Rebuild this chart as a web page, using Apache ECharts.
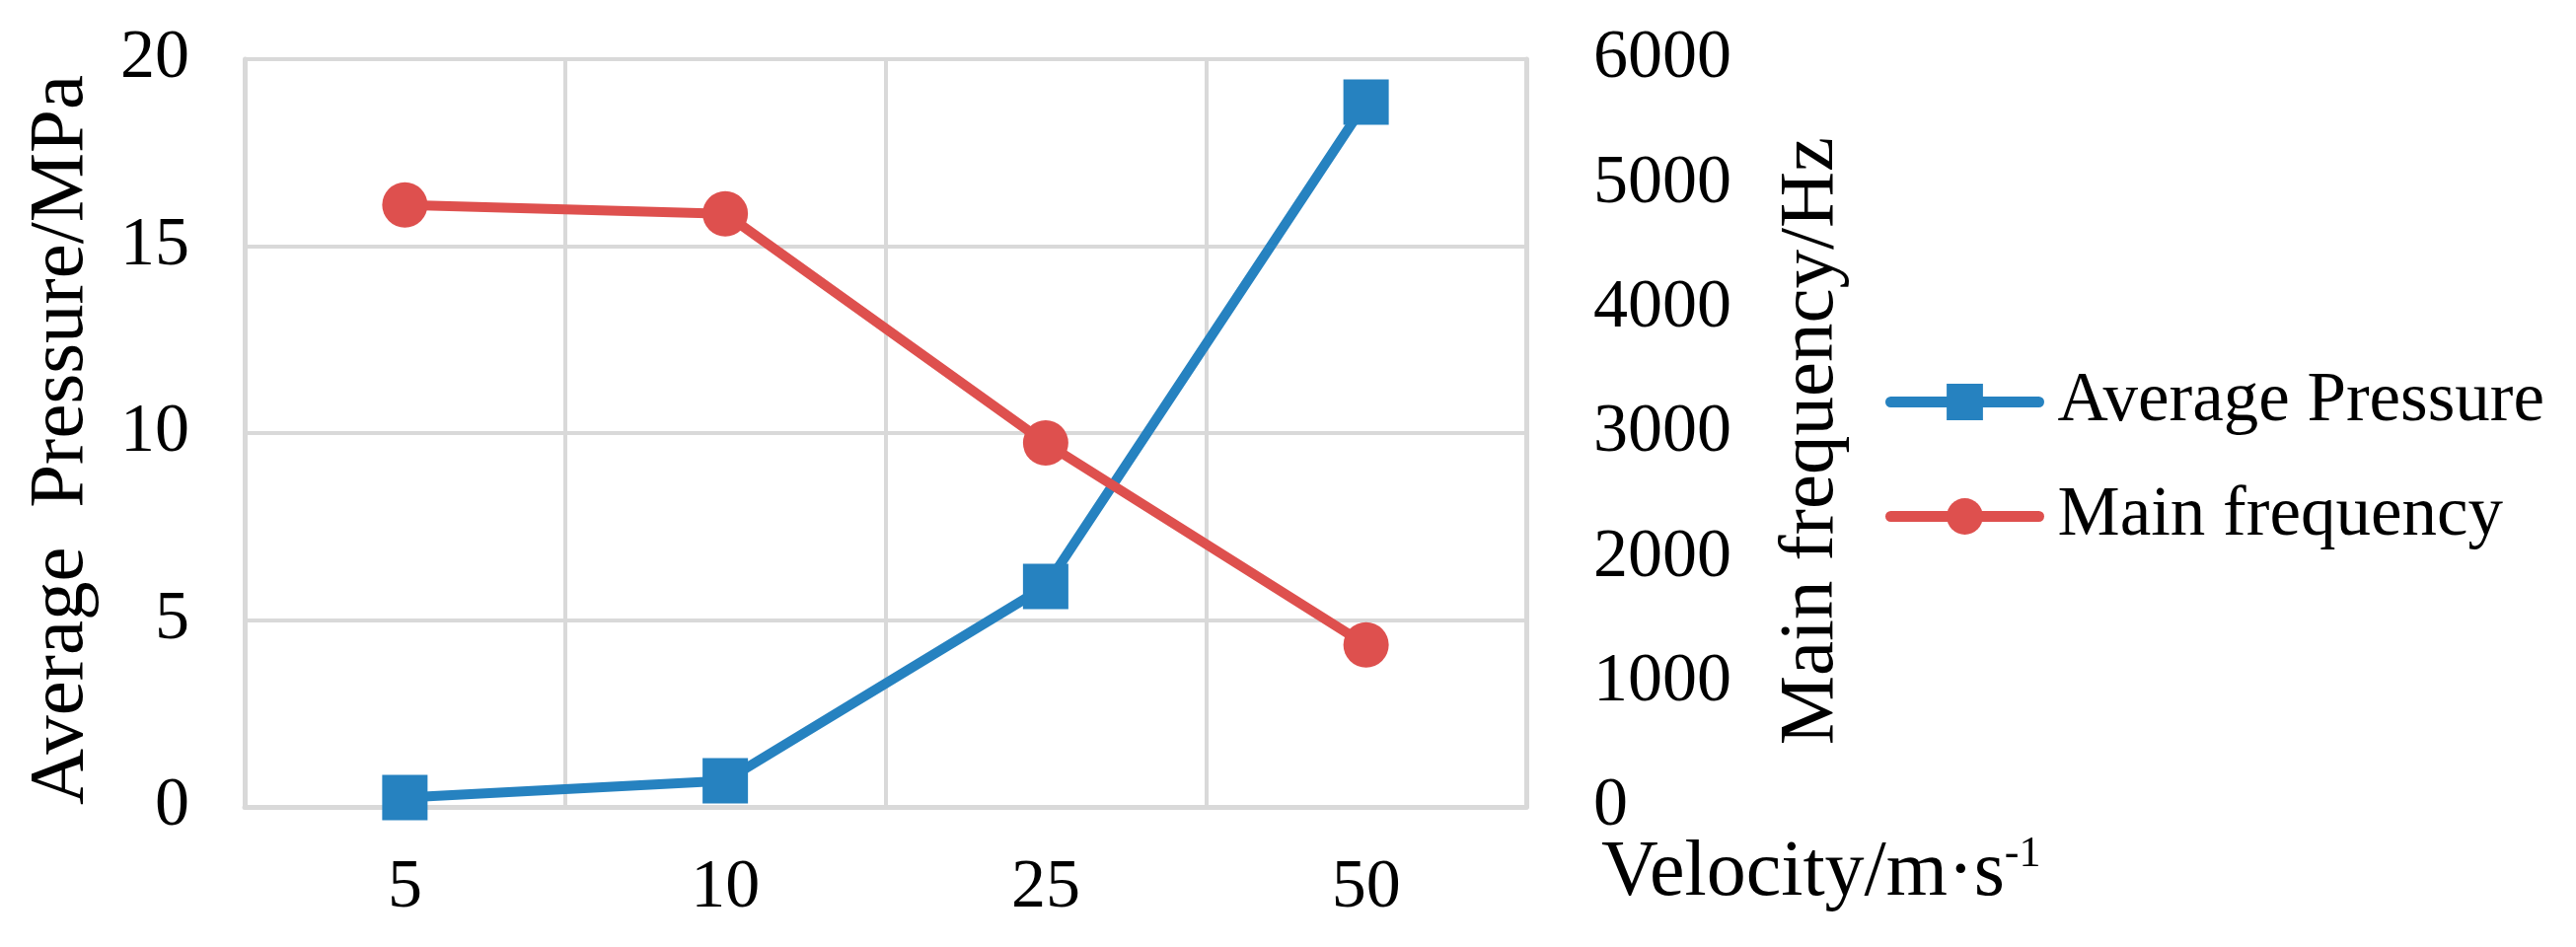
<!DOCTYPE html>
<html>
<head>
<meta charset="utf-8">
<script src="https://cdn.jsdelivr.net/npm/echarts@6/dist/echarts.min.js"></script>
<style>
  html, body { margin: 0; padding: 0; background: #fff; }
  #main { width: 2611px; height: 960px; }
</style>
</head>
<body>
<div id="main"></div>
<script>
// 速度分类 (m/s)
var velocity = ["5", "10", "25", "50"];
// 平均压力 MPa
var avgPressure = [0.25, 0.7, 5.9, 18.85];
// 主频 Hz
var mainFreq = [4830, 4760, 2920, 1300];

var FONT = '"Times New Roman", "Liberation Serif", serif';
var GRID = "#d9d9d9";
var BLUE = "#2682c0", RED = "#de504e";

//数字不加千分位
function plainNum(v) {
  return String(v);
}

var myChart = echarts.init(document.getElementById("main"));
var option = {
  backgroundColor: "#fff",
  animation: false,
  textStyle: { fontFamily: FONT, color: "#000" },
  grid: { left: 248, right: 1064, top: 60, bottom: 142 },
  legend: {
    orient: "vertical",
    left: 1911,
    top: 372,
    padding: 0,
    itemWidth: 150,
    itemHeight: 46,
    itemGap: 45,
    lineStyle: { width: 11, cap: "round" },
    textStyle: { fontFamily: FONT, fontSize: 71, lineHeight: 70, color: "#000", padding: [0, 0, 0, 14] },
    data: ["Average Pressure", "Main frequency"]
  },
  xAxis: {
    type: "category",
    data: velocity,
    boundaryGap: true,
    axisLine: { lineStyle: { color: GRID, width: 5 } },
    axisTick: { show: false },
    splitLine: { show: true, lineStyle: { color: GRID, width: 4 } },
    axisLabel: { fontFamily: FONT, fontSize: 70, color: "#000", margin: 48 },
    name: "{a|Velocity/m·s}{b|-1}",
    nameLocation: "end",
    nameGap: 76,
    nameMoveOverlap: false,
    nameTextStyle: {
      fontFamily: FONT, fontSize: 80, color: "#000",
      align: "left", verticalAlign: "top", padding: [26, 0, 0, 0],
      rich: {
        a: { fontFamily: FONT, fontSize: 80, lineHeight: 84, color: "#000" },
        b: { fontFamily: FONT, fontSize: 44, lineHeight: 52, verticalAlign: "top", color: "#000" }
      }
    }
  },
  yAxis: [
    {
      type: "value",
      position: "left",
      min: 0, max: 20, interval: 5,
      axisLine: { show: true, lineStyle: { color: GRID, width: 5 } },
      axisTick: { show: false },
      splitLine: { show: true, lineStyle: { color: GRID, width: 4 } },
      axisLabel: { fontFamily: FONT, fontSize: 70, color: "#000", margin: 56, formatter: plainNum },
      name: "Average  Pressure/MPa",
      nameLocation: "middle",
      nameRotate: 90,
      nameGap: 146,
      nameMoveOverlap: false,
      nameTextStyle: { fontFamily: FONT, fontSize: 79, color: "#000", padding: [0, 14, 0, 0] }
    },
    {
      type: "value",
      position: "right",
      min: 0, max: 6000, interval: 1000,
      axisLine: { show: true, lineStyle: { color: GRID, width: 5 } },
      axisTick: { show: false },
      splitLine: { show: false },
      axisLabel: { fontFamily: FONT, fontSize: 70, color: "#000", margin: 68, formatter: plainNum },
      name: "Main frequency/Hz",
      nameLocation: "middle",
      nameRotate: 90,
      nameGap: 250,
      nameMoveOverlap: false,
      nameTextStyle: { fontFamily: FONT, fontSize: 79, color: "#000", padding: [0, 16, 0, 0] }
    }
  ],
  series: [
    {
      name: "Average Pressure",
      type: "line",
      yAxisIndex: 0,
      data: avgPressure,
      symbol: "rect",
      symbolSize: 46,
      itemStyle: { color: BLUE },
      lineStyle: { color: BLUE, width: 10, cap: "round" }
    },
    {
      name: "Main frequency",
      type: "line",
      yAxisIndex: 1,
      data: mainFreq,
      symbol: "circle",
      symbolSize: 46,
      itemStyle: { color: RED },
      lineStyle: { color: RED, width: 10, cap: "round" }
    }
  ]
};
myChart.setOption(option);
window.onresize = myChart.resize;
</script>
</body>
</html>
